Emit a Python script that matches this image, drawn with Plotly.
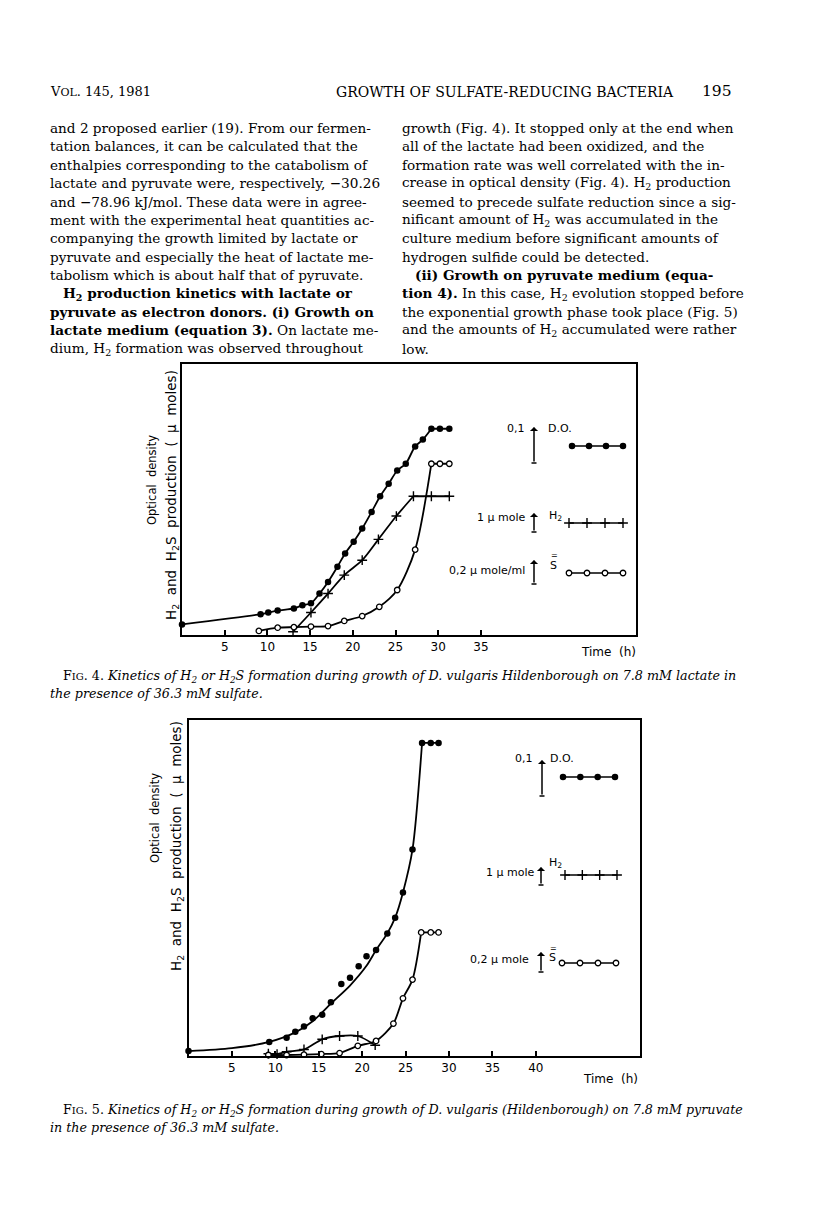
import plotly.graph_objects as go

# page window is 816x1227; the html body adds an 8 px margin, so the figure is drawn
# 8 px in from the top-left corner and all positions below are page pixels.
OFF = 8
W, H = 816 - 2 * OFF, 1227 - 2 * OFF

# ---------------- data ----------------
# Fig. 4 (lactate)  -- y in % of plot height
od4_t = [0, 9.2, 10.1, 11.2, 13.1, 14.1, 15.1, 16.1, 17.1, 18.2, 19.1, 20.1, 21.1, 22.2,
         23.2, 24.2, 25.2, 26.2, 27.3, 28.2, 29.2, 30.2, 31.3]
od4_v = [3.9, 7.7, 8.3, 9.0, 9.8, 11.0, 11.7, 15.3, 19.6, 25.2, 30.1, 34.4, 39.3, 45.4,
         51.2, 55.8, 60.7, 63.2, 69.6, 72.1, 76.1, 76.1, 76.1]
h24_t = [13.0, 15.1, 17.1, 19.0, 21.1, 23.0, 25.1, 27.1, 29.2, 31.3]
h24_v = [1.2, 8.3, 15.3, 22.1, 27.6, 35.3, 43.9, 51.2, 51.2, 51.2]
s4_t = [9.0, 11.2, 13.1, 15.1, 17.1, 19.0, 21.1, 23.1, 25.2, 27.3, 29.2, 30.2, 31.3]
s4_v = [1.5, 2.7, 2.9, 3.1, 3.3, 5.2, 7.0, 10.4, 16.6, 31.5, 63.2, 63.2, 63.2]

# Fig. 5 (pyruvate)
od5_t = [0.0, 9.3, 11.3, 12.3, 13.3, 14.3, 15.4, 16.4, 17.6, 18.6, 19.6, 20.5, 21.6, 22.9,
         23.8, 24.7, 25.8, 26.9, 27.9, 28.8]
od5_v = [1.5, 4.3, 5.6, 7.4, 9.0, 11.5, 12.6, 16.4, 22.0, 23.9, 27.4, 30.4, 32.3, 37.4,
         42.2, 49.9, 63.0, 95.5, 95.5, 95.5]
od5_curve_t = [0, 5, 9.3, 12.3, 14.3, 16.4, 18.6, 20.5, 21.6, 22.9, 23.8, 24.7, 25.8, 26.9]
od5_curve_v = [1.5, 2.4, 4.3, 7.2, 10.6, 16.0, 21.5, 27.5, 32.3, 37.4, 42.2, 49.9, 63.0, 95.5]
h25_t = [9.2, 10.2, 11.3, 13.3, 15.4, 17.4, 19.5, 21.5]
h25_v = [0.7, 0.6, 1.3, 2.0, 5.1, 6.1, 6.1, 3.3]
s5_t = [9.2, 11.3, 13.3, 15.3, 17.4, 19.5, 21.6, 23.6, 24.7, 25.8, 26.8, 27.9, 28.8]
s5_v = [0.3, 0.3, 0.4, 0.6, 0.9, 3.1, 4.6, 9.9, 17.6, 23.3, 37.7, 37.7, 37.7]

x_ticks4 = [5, 10, 15, 20, 25, 30, 35]
x_ticks5 = [5, 10, 15, 20, 25, 30, 35, 40]

header_left = "V<span style='font-size:11px'>OL</span>. 145, 1981"
header_mid = "GROWTH OF SULFATE-REDUCING BACTERIA"
header_page = "195"

left_col = [
    "and 2 proposed earlier (19). From our fermen-",
    "tation balances, it can be calculated that the",
    "enthalpies corresponding to the catabolism of",
    "lactate and pyruvate were, respectively, \u221230.26",
    "and \u221278.96 kJ/mol. These data were in agree-",
    "ment with the experimental heat quantities ac-",
    "companying the growth limited by lactate or",
    "pyruvate and especially the heat of lactate me-",
    "tabolism which is about half that of pyruvate.",
    "   <b>H<sub>2</sub> production kinetics with lactate or</b>",
    "<b>pyruvate as electron donors. (i) Growth on</b>",
    "<b>lactate medium (equation 3).</b> On lactate me-",
    "dium, H<sub>2</sub> formation was observed throughout",
]
right_col = [
    "growth (Fig. 4). It stopped only at the end when",
    "all of the lactate had been oxidized, and the",
    "formation rate was well correlated with the in-",
    "crease in optical density (Fig. 4). H<sub>2</sub> production",
    "seemed to precede sulfate reduction since a sig-",
    "nificant amount of H<sub>2</sub> was accumulated in the",
    "culture medium before significant amounts of",
    "hydrogen sulfide could be detected.",
    "   <b>(ii) Growth on pyruvate medium (equa-</b>",
    "<b>tion 4).</b> In this case, H<sub>2</sub> evolution stopped before",
    "the exponential growth phase took place (Fig. 5)",
    "and the amounts of H<sub>2</sub> accumulated were rather",
    "low.",
]
cap4 = ["F<span style='font-size:10px'>IG</span>. 4. <i>Kinetics of H<sub>2</sub> or H<sub>2</sub>S formation during growth of D. vulgaris Hildenborough on 7.8 mM lactate in</i>",
        "<i>the presence of 36.3 mM sulfate.</i>"]
cap5 = ["F<span style='font-size:10px'>IG</span>. 5. <i>Kinetics of H<sub>2</sub> or H<sub>2</sub>S formation during growth of D. vulgaris (Hildenborough) on 7.8 mM pyruvate</i>",
        "<i>in the presence of 36.3 mM sulfate.</i>"]

# ---------------- layout geometry (page pixels) ----------------
AX = {
    "4": dict(x0=182, x1=635.5, y0=364, y1=635, xr=[0, 53.1], yr=[0, 100], xa="x", ya="y"),
    "5": dict(x0=188.5, x1=640, y0=720, y1=1056, xr=[0, 52.0], yr=[0, 102.5], xa="x2", ya="y2"),
}


def PX(x):
    return (x - OFF) / W


def PY(y):
    return 1 - (y - OFF) / H


def to_data(k, px, py):
    a = AX[k]
    x = a["xr"][0] + (px - a["x0"]) / (a["x1"] - a["x0"]) * (a["xr"][1] - a["xr"][0])
    y = a["yr"][0] + (a["y1"] - py) / (a["y1"] - a["y0"]) * (a["yr"][1] - a["yr"][0])
    return x, y


LINE = dict(color="black", width=1.8)
MK = {
    "od": dict(symbol="circle", size=6.5, color="black", line=dict(width=0)),
    "h2": dict(symbol="cross-thin", size=7, color="black", line=dict(width=1.4, color="black")),
    "s": dict(symbol="circle", size=5.5, color="white", line=dict(width=1.3, color="black")),
}

fig = go.Figure()


def add_series(k, t, v, kind, curve_t=None, curve_v=None):
    a = AX[k]
    common = dict(xaxis=a["xa"], yaxis=a["ya"], showlegend=False, hoverinfo="skip", cliponaxis=False)
    vmax = max(v)
    plateau = v[-1] == vmax
    i0 = v.index(vmax) if plateau else len(v) - 1
    if curve_t is None:
        rt, rv = t[: i0 + 1], v[: i0 + 1]
    else:
        rt, rv = curve_t, curve_v
    fig.add_trace(go.Scatter(x=rt, y=rv, mode="lines",
                             line=dict(shape="spline", smoothing=0.8, **LINE), **common))
    if plateau:
        fig.add_trace(go.Scatter(x=t[i0:], y=v[i0:], mode="lines", line=LINE, **common))
    fig.add_trace(go.Scatter(x=t, y=v, mode="markers", marker=MK[kind], **common))


add_series("4", od4_t, od4_v, "od")
add_series("4", h24_t, h24_v, "h2")
add_series("4", s4_t, s4_v, "s")
add_series("5", od5_t, od5_v, "od", od5_curve_t, od5_curve_v)
add_series("5", h25_t, h25_v, "h2")
add_series("5", s5_t, s5_v, "s")

# ---------------- in-plot keys ----------------
KEYS = {
    "4": [("od", 572, 623, 446), ("h2", 569, 623, 523), ("s", 569, 623, 573)],
    "5": [("od", 563, 615, 777), ("h2", 565, 617, 875), ("s", 562, 616, 963)],
}
for k, rows in KEYS.items():
    a = AX[k]
    for kind, xa_, xb_, yy in rows:
        pxs = [xa_ + i * (xb_ - xa_) / 3 for i in range(4)]
        pts = [to_data(k, p, yy) for p in pxs]
        fig.add_trace(go.Scatter(x=[p[0] for p in pts], y=[p[1] for p in pts], mode="lines+markers",
                                 line=dict(color="black", width=1.5), marker=MK[kind],
                                 xaxis=a["xa"], yaxis=a["ya"], showlegend=False, hoverinfo="skip"))

ann = []
shapes = []
SANS = "DejaVu Sans"
SERIF = "DejaVu Serif"


def txt(text, x, y, size, family=SERIF, xanchor="left", angle=0, color="black"):
    ann.append(dict(text=text, x=PX(x), y=PY(y), xref="paper", yref="paper", showarrow=False,
                    xanchor=xanchor, yanchor="middle", textangle=angle,
                    font=dict(family=family, size=size, color=color)))


def arrow(x, head, tail):
    ann.append(dict(text="", x=PX(x), y=PY(head), xref="paper", yref="paper", showarrow=True,
                    ax=0, ay=tail - head, arrowhead=1, arrowsize=0.9, arrowwidth=1.5,
                    arrowcolor="black", standoff=0, startstandoff=0))
    shapes.append(dict(type="line", xref="paper", yref="paper", x0=PX(x - 2.5), x1=PX(x + 2.5),
                       y0=PY(tail), y1=PY(tail), line=dict(color="black", width=1.5)))


# Fig 4 key labels
txt("0,1", 527, 429, 11, SANS, "right")
arrow(534, 427, 463)
txt("D.O.", 546, 429, 11, SANS)
txt("1 \u00b5 mole", 527, 518, 11, SANS, "right")
arrow(534, 513, 532)
txt("H<sub>2</sub>", 547, 516, 11, SANS)
txt("0,2 \u00b5 mole/ml", 527, 571, 11, SANS, "right")
arrow(534, 560, 584)
txt("S", 548, 565, 11, SANS)
txt("=", 548.5, 556, 8, SANS)

# Fig 5 key labels
txt("0,1", 535, 758, 11, SANS, "right")
arrow(542, 760, 796)
txt("D.O.", 548, 758, 11, SANS)
txt("1 \u00b5 mole", 536, 872, 11, SANS, "right")
arrow(541, 867, 885)
txt("H<sub>2</sub>", 547, 863, 11, SANS)
txt("0,2 \u00b5 mole", 531, 959, 11, SANS, "right")
arrow(541, 952, 972)
txt("S", 547, 957, 11, SANS)
txt("=", 547.5, 948, 8, SANS)

# axis titles
for cx1, cy1, cx2, cy2 in [(152, 480, 172, 495), (155, 818, 177, 846)]:
    txt("Optical  density", cx1, cy1, 11.5, SANS, "center", -90)
    txt("H<sub>2</sub>  and  H<sub>2</sub>S  production  (  \u00b5  moles)", cx2, cy2, 13.5, SANS, "center", -90)
txt("Time  (h)", 608, 652, 12, SANS, "center")
txt("Time  (h)", 610, 1079, 12, SANS, "center")

# page header & body text
txt(header_left, 48, 92, 13)
txt(header_mid, 505, 92, 14, SERIF, "center")
txt(header_page, 717, 91, 15.5, SERIF, "center")
for i, line in enumerate(left_col):
    txt(line, 48, 128 + i * 18.4, 13.6)
for i, line in enumerate(right_col):
    txt(line, 400, 128 + i * 18.4, 13.6)

txt(cap4[0], 61, 676, 12.7)
txt(cap4[1], 48, 693, 12.7)
txt(cap5[0], 61, 1110, 12.7)
txt(cap5[1], 48, 1127, 12.7)


# ---------------- axes ----------------
def xaxis(k, ticks):
    a = AX[k]
    return dict(domain=[PX(a["x0"]), PX(a["x1"])], range=a["xr"], tickvals=ticks,
                ticks="inside", ticklen=5, tickwidth=1.5, tickcolor="black",
                showline=True, mirror=True, linecolor="black", linewidth=1.6,
                showgrid=False, zeroline=False, anchor=a["ya"],
                tickfont=dict(family=SANS, size=12, color="black"))


def yaxis(k):
    a = AX[k]
    return dict(domain=[PY(a["y1"]), PY(a["y0"])], range=a["yr"], showticklabels=False,
                ticks="", showline=True, mirror=True, linecolor="black", linewidth=1.6,
                showgrid=False, zeroline=False, anchor=a["xa"])


fig.update_layout(
    width=W, height=H, margin=dict(l=0, r=0, t=0, b=0),
    paper_bgcolor="white", plot_bgcolor="white",
    xaxis=xaxis("4", x_ticks4), yaxis=yaxis("4"),
    xaxis2=xaxis("5", x_ticks5), yaxis2=yaxis("5"),
    annotations=ann, shapes=shapes, showlegend=False,
)

fig.write_html("out.html")
